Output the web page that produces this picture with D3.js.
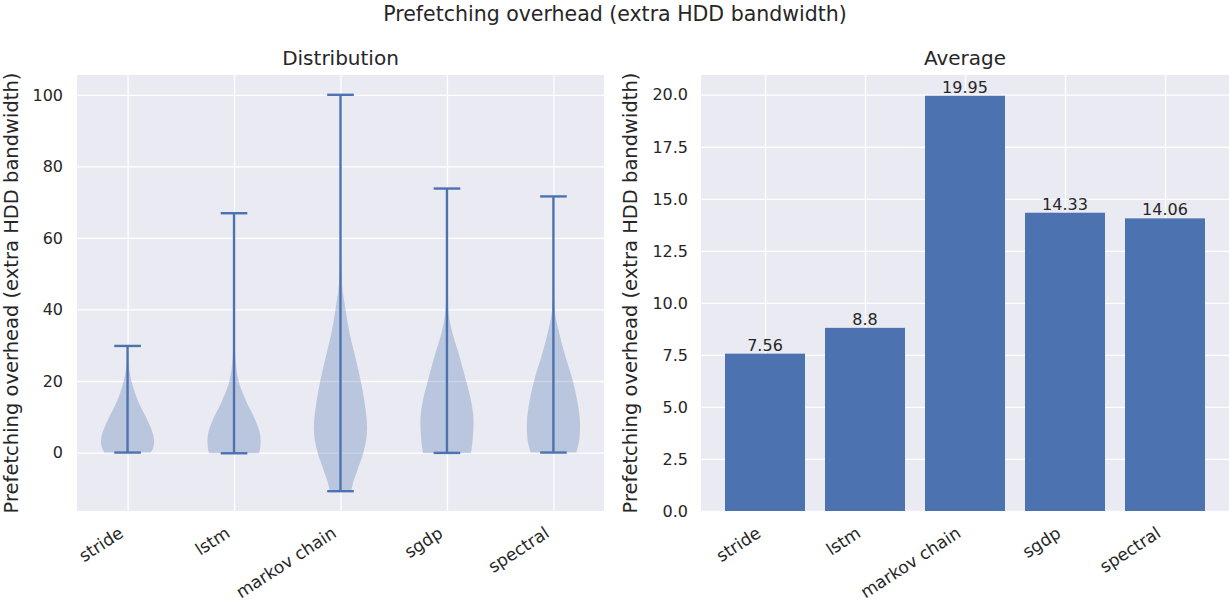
<!DOCTYPE html>
<html>
<head>
  <meta charset="utf-8">
  <title>Prefetching overhead</title>
  <script src="https://cdnjs.cloudflare.com/ajax/libs/d3/7.8.5/d3.min.js"></script>
  <style>
    body { margin: 0; background: #fff; }
    svg text { font-family: "DejaVu Sans", sans-serif; fill: #262626; }
    .grid line { stroke: #fff; stroke-width: 1.3; }
    .grid path { display: none; }
  </style>
</head>
<body>
<svg id="chart" width="1229" height="603"></svg>
<script>
  // data
  var models = ["stride", "lstm", "markov chain", "sgdp", "spectral"];
  var averages = [7.56, 8.8, 19.95, 14.33, 14.06];
  var violinMin = [0, -0.2, -10.8, -0.1, 0];
  var violinMax = [29.8, 66.9, 100, 73.8, 71.6];

  // relative density (0..1) along the value axis, per model
  var strideDensity = [[0, 0.87], [0.8, 0.93], [3.1, 1.0], [5, 0.96], [9.6, 0.71], [14.3, 0.40], [19, 0.18], [23.7, 0.05], [27, 0.015], [29.8, 0.005]];
  var lstmDensity = [[-0.2, 0.92], [0.3, 0.96], [3.1, 1.0], [5, 0.98], [9.6, 0.77], [14.3, 0.46], [19, 0.21], [26.5, 0.05], [35, 0.012], [50, 0.003], [66.9, 0]];
  var markovDensity = [[-10.8, 0.41], [-9.1, 0.45], [-4.4, 0.66], [0, 0.86], [6.8, 1.0], [14.3, 0.9], [20, 0.76], [28.4, 0.5], [33, 0.35], [40, 0.19], [47, 0.06], [60, 0.012], [80, 0.002], [100, 0]];
  var sgdpDensity = [[-0.1, 0.9], [0.3, 0.91], [4, 0.97], [8.7, 1.0], [14.3, 0.91], [20, 0.72], [28.4, 0.41], [33, 0.22], [40, 0.05], [50, 0.01], [73.8, 0]];
  var spectralDensity = [[0, 0.86], [0.3, 0.87], [4, 0.98], [7.8, 1.0], [14.3, 0.9], [20, 0.73], [28.4, 0.39], [33, 0.23], [40, 0.05], [50, 0.01], [71.6, 0]];
  var densities = [strideDensity, lstmDensity, markovDensity, sgdpDensity, spectralDensity];

  var leftTicks = [0, 20, 40, 60, 80, 100];
  var rightTicks = [0, 2.5, 5, 7.5, 10, 12.5, 15, 17.5, 20];

  var blue = "#4c72b0";
  var svg = d3.select("#chart");
  var plotTop = 75, plotBottom = 511;

  svg.append("text")
    .attr("x", 615).attr("y", 21)
    .attr("text-anchor", "middle")
    .style("font-size", "20.5px")
    .text("Prefetching overhead (extra HDD bandwidth)");

  function xLabel(g, x, text) {
    g.append("text")
      .attr("transform", "translate(" + (x - 3) + "," + (plotBottom + 25) + ") rotate(-33)")
      .attr("text-anchor", "end").style("font-size", "17px")
      .text(text);
  }

  // ---- left: distribution (violins) ----
  var L1 = 77, R1 = 604;
  var lo = d3.min(violinMin), hi = d3.max(violinMax);
  var pad = (hi - lo) * 0.05;
  var x1 = d3.scaleLinear().domain([0.525, 5.475]).range([L1, R1]);
  var y1 = d3.scaleLinear().domain([lo - pad, hi + pad]).range([plotBottom, plotTop]);

  var g1 = svg.append("g");
  g1.append("rect").attr("x", L1).attr("y", plotTop)
    .attr("width", R1 - L1).attr("height", plotBottom - plotTop).attr("fill", "#eaeaf2");

  g1.append("g").attr("class", "grid")
    .attr("transform", "translate(" + L1 + ",0)")
    .call(d3.axisLeft(y1).tickValues(leftTicks).tickSize(-(R1 - L1)).tickFormat(""));
  g1.append("g").attr("class", "grid")
    .attr("transform", "translate(0," + plotTop + ")")
    .call(d3.axisBottom(x1).tickValues([1, 2, 3, 4, 5]).tickSize(plotBottom - plotTop).tickFormat(""));

  g1.selectAll(".ytick").data(leftTicks).enter().append("text")
    .attr("x", 63).attr("y", d => y1(d)).attr("dy", "0.36em")
    .attr("text-anchor", "end").style("font-size", "16px")
    .text(d => d);

  var halfW = 0.25;
  models.forEach(function (m, i) {
    var pos = i + 1;
    var area = d3.area()
      .y(d => y1(d[0]))
      .x0(d => x1(pos - d[1] * halfW))
      .x1(d => x1(pos + d[1] * halfW))
      .curve(d3.curveMonotoneY);
    g1.append("path").datum(densities[i])
      .attr("d", area)
      .attr("fill", blue).attr("fill-opacity", 0.3);

    g1.append("line")
      .attr("x1", x1(pos)).attr("x2", x1(pos))
      .attr("y1", y1(violinMin[i])).attr("y2", y1(violinMax[i]))
      .attr("stroke", blue).attr("stroke-width", 2.4);
    [violinMin[i], violinMax[i]].forEach(function (v) {
      g1.append("line")
        .attr("x1", x1(pos - halfW / 2)).attr("x2", x1(pos + halfW / 2))
        .attr("y1", y1(v)).attr("y2", y1(v))
        .attr("stroke", blue).attr("stroke-width", 2.4);
    });

    xLabel(g1, x1(pos), m);
  });

  g1.append("text")
    .attr("x", (L1 + R1) / 2).attr("y", 65)
    .attr("text-anchor", "middle").style("font-size", "20px")
    .text("Distribution");
  g1.append("text")
    .attr("transform", "translate(18," + (plotTop + plotBottom) / 2 + ") rotate(-90)")
    .attr("text-anchor", "middle").style("font-size", "19.5px")
    .text("Prefetching overhead (extra HDD bandwidth)");

  // ---- right: average (bars) ----
  var L2 = 701, R2 = 1229;
  var x2 = d3.scaleLinear().domain([-0.64, 4.64]).range([L2, R2]);
  var y2 = d3.scaleLinear().domain([0, d3.max(averages) * 1.05]).range([plotBottom, plotTop]);

  var g2 = svg.append("g");
  g2.append("rect").attr("x", L2).attr("y", plotTop)
    .attr("width", R2 - L2).attr("height", plotBottom - plotTop).attr("fill", "#eaeaf2");
  g2.append("g").attr("class", "grid")
    .attr("transform", "translate(" + L2 + ",0)")
    .call(d3.axisLeft(y2).tickValues(rightTicks).tickSize(-(R2 - L2)).tickFormat(""));
  g2.append("g").attr("class", "grid")
    .attr("transform", "translate(0," + plotTop + ")")
    .call(d3.axisBottom(x2).tickValues(d3.range(models.length)).tickSize(plotBottom - plotTop).tickFormat(""));

  g2.selectAll(".ytick").data(rightTicks).enter().append("text")
    .attr("x", 688).attr("y", d => y2(d)).attr("dy", "0.36em")
    .attr("text-anchor", "end").style("font-size", "16px")
    .text(d => d3.format(".1f")(d));

  g2.selectAll(".bar").data(averages).enter().append("rect")
    .attr("x", (d, i) => x2(i - 0.4))
    .attr("width", (d, i) => x2(i + 0.4) - x2(i - 0.4))
    .attr("y", d => y2(d))
    .attr("height", d => y2(0) - y2(d))
    .attr("fill", blue);

  g2.selectAll(".val").data(averages).enter().append("text")
    .attr("x", (d, i) => x2(i)).attr("y", d => y2(d) - 3)
    .attr("text-anchor", "middle").style("font-size", "16px")
    .text(d => String(d));

  models.forEach(function (m, i) {
    xLabel(g2, x2(i), m);
  });

  g2.append("text")
    .attr("x", (L2 + R2) / 2).attr("y", 65)
    .attr("text-anchor", "middle").style("font-size", "20px")
    .text("Average");
  g2.append("text")
    .attr("transform", "translate(637," + (plotTop + plotBottom) / 2 + ") rotate(-90)")
    .attr("text-anchor", "middle").style("font-size", "19.5px")
    .text("Prefetching overhead (extra HDD bandwidth)");
</script>
</body>
</html>
